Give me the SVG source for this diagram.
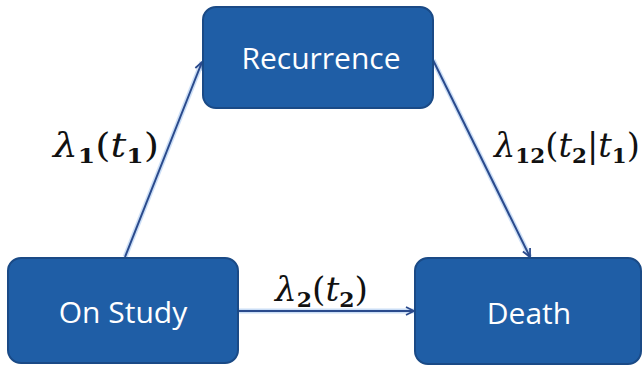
<svg xmlns="http://www.w3.org/2000/svg" width="643" height="370" viewBox="0 0 643 370">
<style>
.box{fill:#1f5ea6;stroke:#1a4a86;stroke-width:2}
.lbl{font-family:"Open Sans","Liberation Sans",sans-serif;font-size:30px;fill:#ffffff;text-anchor:middle}
.glow{stroke:#a9c8f0;stroke-width:5;fill:none;opacity:0.6}
.edge{stroke:#2a4a8c;stroke-width:2;fill:none}
.math{font-family:"DejaVu Serif","Liberation Serif",serif;font-size:33px;fill:#111111}
.it{font-style:italic}
.sub{font-size:21px;font-weight:bold}
</style>
<defs>
<marker id="arr" markerWidth="12" markerHeight="12" refX="10" refY="6" orient="auto" markerUnits="userSpaceOnUse">
<path d="M2,2 L10,6 L2,10" fill="none" stroke="#2a4a8c" stroke-width="1.8"/>
</marker>
</defs>
<g id="connectors">
<line class="glow" x1="125" y1="257" x2="202" y2="62"/>
<line class="edge" x1="125" y1="257" x2="202" y2="62" marker-end="url(#arr)"/>
<line class="glow" x1="433" y1="60" x2="530" y2="257"/>
<line class="edge" x1="433" y1="60" x2="530" y2="257" marker-end="url(#arr)"/>
<line class="glow" x1="238" y1="311" x2="414" y2="311"/>
<line class="edge" x1="238" y1="311" x2="414" y2="311" marker-end="url(#arr)"/>
</g>
<g id="recurrence">
<rect class="box" x="203" y="7" width="230" height="101" rx="13"/>
<text class="lbl" x="321" y="69">Recurrence</text>
</g>
<g id="onstudy">
<rect class="box" x="8" y="258" width="230" height="105" rx="13"/>
<text class="lbl" x="123" y="323">On Study</text>
</g>
<g id="death">
<rect class="box" x="415" y="258" width="226" height="106" rx="13"/>
<text class="lbl" x="529" y="324">Death</text>
</g>
<g id="labels">
<text class="math" x="53" y="157" textLength="106" lengthAdjust="spacingAndGlyphs"><tspan class="it">λ</tspan><tspan class="sub" dy="6">1</tspan><tspan dy="-6">(</tspan><tspan class="it">t</tspan><tspan class="sub" dy="6">1</tspan><tspan dy="-6">)</tspan></text>
<text class="math" x="275" y="301" textLength="93" lengthAdjust="spacingAndGlyphs"><tspan class="it">λ</tspan><tspan class="sub" dy="6">2</tspan><tspan dy="-6">(</tspan><tspan class="it">t</tspan><tspan class="sub" dy="6">2</tspan><tspan dy="-6">)</tspan></text>
<text class="math" x="494" y="157" textLength="146" lengthAdjust="spacingAndGlyphs"><tspan class="it">λ</tspan><tspan class="sub" dy="6">12</tspan><tspan dy="-6">(</tspan><tspan class="it">t</tspan><tspan class="sub" dy="6">2</tspan><tspan dy="-6">|</tspan><tspan class="it">t</tspan><tspan class="sub" dy="6">1</tspan><tspan dy="-6">)</tspan></text>
</g>
</svg>
